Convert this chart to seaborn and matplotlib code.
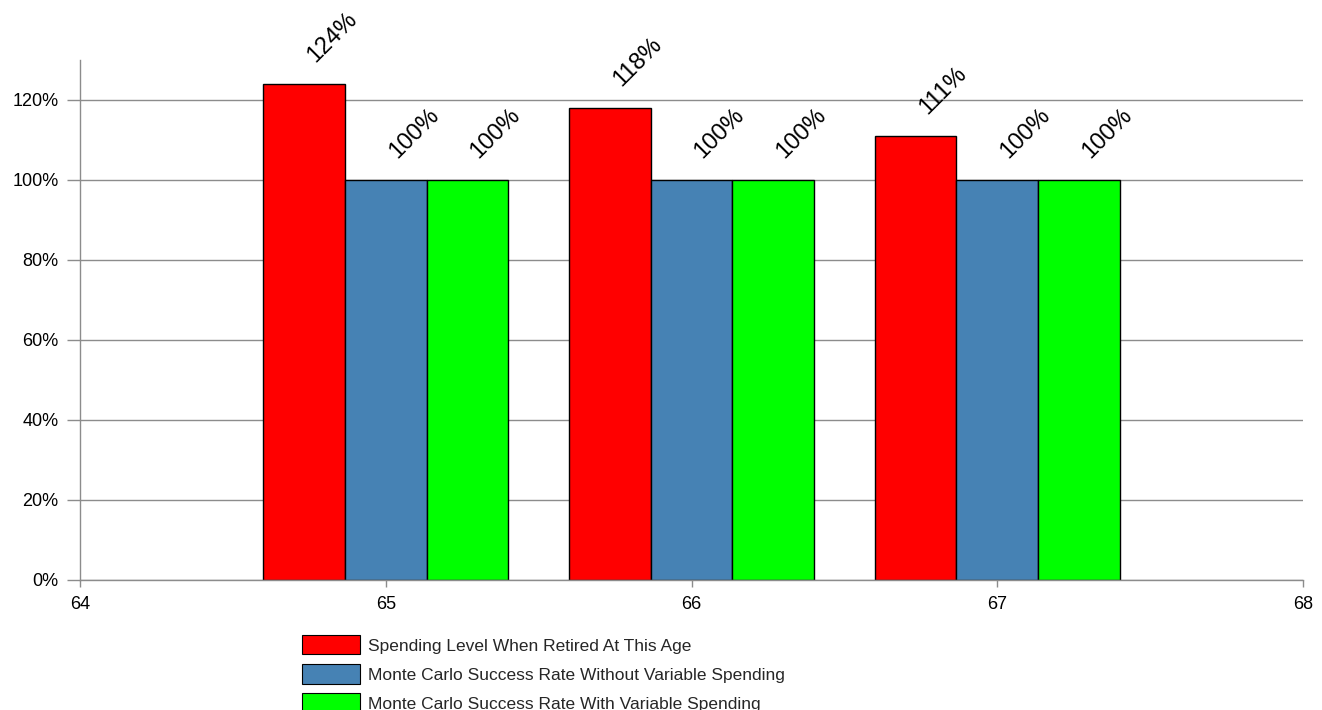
import matplotlib
matplotlib.use("Agg")
import matplotlib.pyplot as plt
import pandas as pd
import seaborn as sns
from matplotlib.patches import Patch

# Retirement ages and the three measures shown per age
ages = [65, 66, 67]
series_names = [
    "Spending Level When Retired At This Age",
    "Monte Carlo Success Rate Without Variable Spending",
    "Monte Carlo Success Rate With Variable Spending",
]
spending_level = [124, 118, 111]
success_without = [100, 100, 100]
success_with = [100, 100, 100]
series_colors = ["#ff0000", "#4682b4", "#00ff00"]
x_ticks = [64, 65, 66, 67, 68]
y_ticks = [0, 20, 40, 60, 80, 100, 120]

rows = []
for name, vals in zip(series_names, [spending_level, success_without, success_with]):
    for age, v in zip(ages, vals):
        rows.append({"age": age, "series": name, "value": v})
df = pd.DataFrame(rows)

sns.set_theme(style="white")
plt.rcParams["font.family"] = ["Liberation Sans", "DejaVu Sans"]

fig = plt.figure(figsize=(13.22, 7.10), dpi=100)
ax = fig.add_axes([80 / 1322, 1 - 580 / 710, (1303 - 80) / 1322, (580 - 60) / 710])

sns.barplot(
    data=df, x="age", y="value", hue="series", hue_order=series_names,
    palette=series_colors, native_scale=True, width=0.8, ax=ax,
    edgecolor="black", linewidth=1, saturation=1, legend=False, errorbar=None,
)

ax.set_xlim(64, 68)
ax.set_ylim(0, 130)
ax.set_xticks(x_ticks)
ax.set_xticklabels([str(t) for t in x_ticks])
ax.set_yticks(y_ticks)
ax.set_yticklabels([f"{t}%" for t in y_ticks])
ax.set_xlabel("")
ax.set_ylabel("")

ax.yaxis.grid(True, color="#8c8c8c", linewidth=1)
ax.set_axisbelow(True)
for side in ("top", "right"):
    ax.spines[side].set_visible(False)
for side in ("left", "bottom"):
    ax.spines[side].set_color("#8c8c8c")
    ax.spines[side].set_linewidth(1)
ax.tick_params(axis="y", left=True, length=9.5, width=1, color="#8c8c8c",
               labelsize=13, pad=6, labelcolor="black")
ax.tick_params(axis="x", bottom=True, length=5, width=1, color="#8c8c8c",
               labelsize=13, pad=6.5, labelcolor="black")

# Rotated value labels above each bar
for container in ax.containers:
    for bar in container:
        h = bar.get_height()
        cx = bar.get_x() + bar.get_width() / 2
        ax.annotate(f"{h:.0f}%", xy=(cx, h), xytext=(8, 15), textcoords="offset points",
                    rotation=45, rotation_mode="anchor", ha="left", va="baseline",
                    fontsize=17, color="black", annotation_clip=False)

handles = [Patch(facecolor=c, edgecolor="black", linewidth=0.8) for c in series_colors]
fig.legend(handles, series_names, loc="upper left", bbox_to_anchor=(302 / 1322, 1 - 635 / 710),
           frameon=False, fontsize=12.5, handlelength=3.35, handleheight=1.35,
           handletextpad=0.45, labelspacing=0.55, borderpad=0, borderaxespad=0)

fig.savefig("out.png", dpi=100)
